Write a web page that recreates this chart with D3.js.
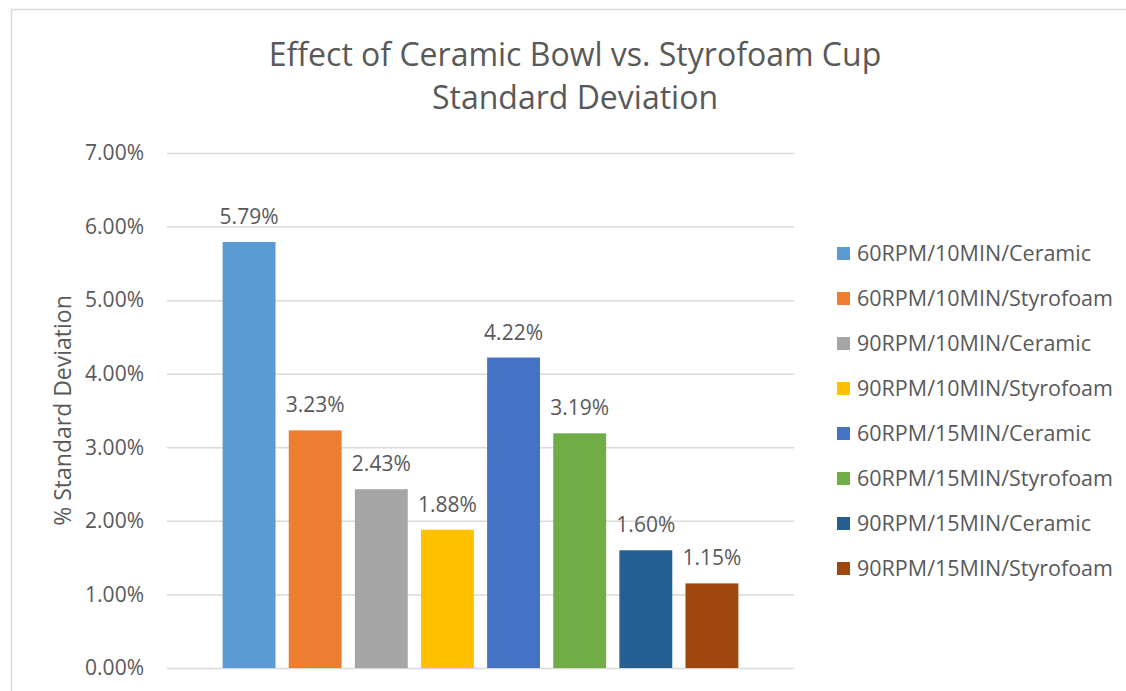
<!DOCTYPE html>
<html>
<head>
<meta charset="utf-8">
<script src="https://cdn.jsdelivr.net/npm/d3@7"></script>
<style>
  body { margin: 0; background: #fff; }
  text { font-family: "Open Sans", sans-serif; fill: #595959; }
</style>
</head>
<body>
<div id="chart"></div>
<script>
// data
var series = ["60RPM/10MIN/Ceramic", "60RPM/10MIN/Styrofoam", "90RPM/10MIN/Ceramic", "90RPM/10MIN/Styrofoam",
              "60RPM/15MIN/Ceramic", "60RPM/15MIN/Styrofoam", "90RPM/15MIN/Ceramic", "90RPM/15MIN/Styrofoam"];
var values = [5.79, 3.23, 2.43, 1.88, 4.22, 3.19, 1.60, 1.15];
var colors = ["#5B9BD5", "#ED7D31", "#A5A5A5", "#FFC000", "#4472C4", "#70AD47", "#255E91", "#9E480E"];
var yTicks = [0, 1, 2, 3, 4, 5, 6, 7];
var titleLines = ["Effect of Ceramic Bowl vs. Styrofoam Cup", "Standard Deviation"];

var svgWidth = 1126;
var svgHeight = 691;

var plot = { left: 167, right: 794, top: 153, bottom: 668 };

var svg = d3.select("#chart")
    .append("svg")
    .attr("width", svgWidth)
    .attr("height", svgHeight);

// chart border
svg.append("rect")
    .attr("x", 11.5)
    .attr("y", 9.5)
    .attr("width", 1130)
    .attr("height", 700)
    .attr("fill", "none")
    .attr("stroke", "#D9D9D9")
    .attr("stroke-width", 1.5);

// title
svg.selectAll(".title")
    .data(titleLines)
    .enter()
    .append("text")
    .attr("class", "title")
    .attr("x", 575)
    .attr("y", function(d, i) { return 66 + i * 43; })
    .attr("text-anchor", "middle")
    .attr("font-size", "32px")
    .text(function(d) { return d; });

// scales
var yScale = d3.scaleLinear().domain([0, 7]).range([plot.bottom, plot.top]);
var xScale = d3.scaleBand()
    .domain(series)
    .range([216, 745])
    .paddingInner(0.2)
    .paddingOuter(0.1);

// gridlines + y axis labels
var yAxis = d3.axisLeft(yScale)
    .tickValues(yTicks)
    .tickSize(-(plot.right - plot.left))
    .tickPadding(23)
    .tickFormat(function(d) { return d.toFixed(2) + "%"; });

var gy = svg.append("g")
    .attr("transform", "translate(" + plot.left + ",0)")
    .call(yAxis);
gy.select(".domain").remove();
gy.selectAll("line").attr("stroke", "#D9D9D9").attr("stroke-width", 1.5);
gy.selectAll("text")
    .attr("font-size", "21px")
    .attr("fill", "#595959")
    .style("font-family", "'Open Sans', sans-serif");

// y axis title
svg.append("text")
    .attr("transform", "rotate(-90)")
    .attr("x", -(plot.top + plot.bottom) / 2)
    .attr("y", 71)
    .attr("text-anchor", "middle")
    .attr("font-size", "23px")
    .text("% Standard Deviation");

// bars
svg.selectAll(".bar")
    .data(values)
    .enter()
    .append("rect")
    .attr("class", "bar")
    .attr("x", function(d, i) { return xScale(series[i]); })
    .attr("y", function(d) { return yScale(d); })
    .attr("width", xScale.bandwidth())
    .attr("height", function(d) { return yScale(0) - yScale(d); })
    .attr("fill", function(d, i) { return colors[i]; });

// data labels
svg.selectAll(".label")
    .data(values)
    .enter()
    .append("text")
    .attr("class", "label")
    .attr("x", function(d, i) { return xScale(series[i]) + xScale.bandwidth() / 2; })
    .attr("y", function(d) { return yScale(d) - 18; })
    .attr("text-anchor", "middle")
    .attr("font-size", "21px")
    .text(function(d) { return d.toFixed(2) + "%"; });

// legend
var legend = svg.selectAll(".legend")
    .data(series)
    .enter()
    .append("g")
    .attr("class", "legend")
    .attr("transform", function(d, i) { return "translate(837," + (253 + i * 45) + ")"; });

legend.append("rect")
    .attr("x", 0)
    .attr("y", -6)
    .attr("width", 13)
    .attr("height", 13)
    .attr("fill", function(d, i) { return colors[i]; });

legend.append("text")
    .attr("x", 20)
    .attr("y", 8)
    .attr("font-size", "21.5px")
    .text(function(d) { return d; });
</script>
</body>
</html>
